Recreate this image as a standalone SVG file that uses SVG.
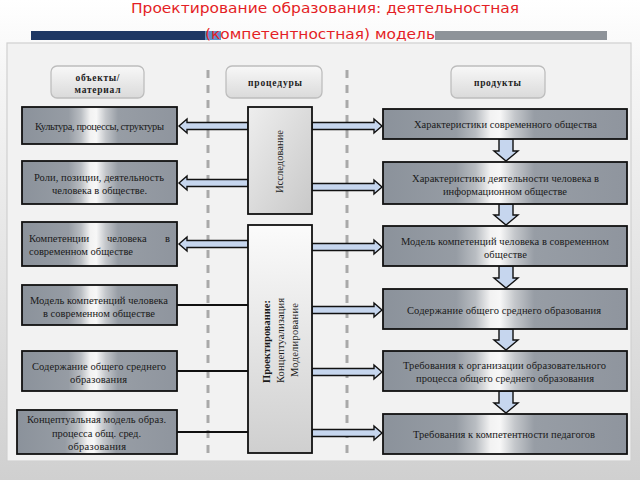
<svg xmlns="http://www.w3.org/2000/svg" width="640" height="480" viewBox="0 0 640 480">
<defs>
<linearGradient id="bg" x1="0" y1="0" x2="0" y2="1">
<stop offset="0" stop-color="#ffffff"/><stop offset="0.15" stop-color="#f6f6f6"/><stop offset="1" stop-color="#d0d0d0"/>
</linearGradient>
<linearGradient id="metal" x1="0" y1="0" x2="1" y2="0">
<stop offset="0" stop-color="#8b929b"/><stop offset="0.30" stop-color="#969ca4"/><stop offset="0.38" stop-color="#b9bdc2"/><stop offset="0.44" stop-color="#f2f2f2"/><stop offset="0.48" stop-color="#f7f7f7"/><stop offset="0.54" stop-color="#c4c7cb"/><stop offset="0.62" stop-color="#979da5"/><stop offset="1" stop-color="#8f959e"/>
</linearGradient>
<linearGradient id="btn" x1="0" y1="0" x2="0" y2="1">
<stop offset="0" stop-color="#f8f8f8"/><stop offset="1" stop-color="#dadada"/>
</linearGradient>
<linearGradient id="mid1" x1="0" y1="0" x2="1" y2="1">
<stop offset="0" stop-color="#eeeeee"/><stop offset="1" stop-color="#c8c8c8"/>
</linearGradient>
<linearGradient id="mid2" x1="0" y1="0" x2="0" y2="1">
<stop offset="0" stop-color="#fbfbfb"/><stop offset="1" stop-color="#cfcfcf"/>
</linearGradient>
</defs>
<style>
.title{font-family:"DejaVu Sans",sans-serif;font-size:13.5px;fill:#e41e26;text-anchor:middle}
.lb{fill:url(#metal);stroke:#111;stroke-width:1.8}
.hb{fill:url(#btn);stroke:#bdbdbd;stroke-width:1.3}
.t{font-family:"Liberation Serif","Times New Roman",serif;font-size:10.5px;fill:#1a1a1a;text-anchor:middle}
.tl{font-family:"Liberation Serif","Times New Roman",serif;font-size:10.5px;fill:#1a1a1a}
.ht{font-family:"Liberation Serif","Times New Roman",serif;font-size:9.5px;font-weight:bold;fill:#222;text-anchor:middle}
.b{font-weight:bold}
.arr{fill:#c6d6ee;stroke:#111;stroke-width:1.4;stroke-linejoin:miter}
.ln{stroke:#111;stroke-width:2;fill:none}
.dash{stroke:#a9a9a9;stroke-width:3;stroke-dasharray:8 7;fill:none}
</style>
<rect x="0" y="0" width="640" height="480" fill="url(#bg)"/>
<g id="title">
<rect x="31" y="31" width="176" height="9" fill="#1f3864"/>
<rect x="205" y="31" width="16" height="9" fill="#5d8fc9"/>
<rect x="435" y="31" width="172" height="9" fill="#8e9399"/>
<text class="title" x="325" y="13" textLength="388" lengthAdjust="spacingAndGlyphs">Проектирование образования: деятельностная</text>
<text class="title" x="320" y="39" textLength="230" lengthAdjust="spacingAndGlyphs">(компетентностная) модель</text>
</g>
<rect x="7" y="43" width="624" height="418" fill="#f2f2f2" stroke="#d0d0d0" stroke-width="1.2"/>
<g id="separators">
<line class="dash" x1="208" y1="70" x2="208" y2="455"/>
<line class="dash" x1="347" y1="70" x2="347" y2="455"/>
</g>
<g id="headers">
<g id="h-objects"><rect class="hb" x="51" y="66" width="93" height="32" rx="6"/><text class="ht" x="97.5" y="81" textLength="44">объекты/</text><text class="ht" x="97.5" y="93" textLength="46">материал</text></g>
<g id="h-procedures"><rect class="hb" x="226" y="66" width="96" height="32" rx="6"/><text class="ht" x="275" y="86" textLength="54">процедуры</text></g>
<g id="h-products"><rect class="hb" x="451" y="66" width="94" height="32" rx="6"/><text class="ht" x="497.5" y="86" textLength="47">продукты</text></g>
</g>
<g id="connectors">
<polygon class="arr" points="248,122.5 187,122.5 187,119 179,126 187,133 187,129.5 248,129.5"/>
<polygon class="arr" points="248,179.5 187,179.5 187,176 179,183 187,190 187,186.5 248,186.5"/>
<polygon class="arr" points="248,240.5 187,240.5 187,237 179,244 187,251 187,247.5 248,247.5"/>
<line class="ln" x1="177" y1="305" x2="248" y2="305"/>
<line class="ln" x1="177" y1="371" x2="248" y2="371"/>
<line class="ln" x1="177" y1="432" x2="248" y2="432"/>
<polygon class="arr" points="312,122.5 374,122.5 374,119 382,126 374,133 374,129.5 312,129.5"/>
<polygon class="arr" points="312,183.5 374,183.5 374,180 382,187 374,194 374,190.5 312,190.5"/>
<polygon class="arr" points="312,243.5 374,243.5 374,240 382,247 374,254 374,250.5 312,250.5"/>
<polygon class="arr" points="312,306.5 374,306.5 374,303 382,310 374,317 374,313.5 312,313.5"/>
<polygon class="arr" points="312,368.5 374,368.5 374,365 382,372 374,379 374,375.5 312,375.5"/>
<polygon class="arr" points="312,429.5 374,429.5 374,426 382,433 374,440 374,436.5 312,436.5"/>
<polygon class="arr" points="499,139 513,139 513,151 518,151 506,161 494,151 499,151"/>
<polygon class="arr" points="499,204 513,204 513,215 518,215 506,225 494,215 499,215"/>
<polygon class="arr" points="499,266 513,266 513,278 518,278 506,288 494,278 499,278"/>
<polygon class="arr" points="499,329 513,329 513,340 518,340 506,350 494,340 499,340"/>
<polygon class="arr" points="499,391 513,391 513,403 518,403 506,413 494,403 499,403"/>
</g>
<g id="left-column">
<g id="l1"><rect class="lb" x="22" y="107" width="155" height="37"/><text class="t" x="99.5" y="130" textLength="129">Культура, процессы, структуры</text></g>
<g id="l2"><rect class="lb" x="22" y="161" width="155" height="43"/><text class="t" x="99" y="181" textLength="130">Роли, позиции, деятельность</text><text class="t" x="99.5" y="194" textLength="95">человека в обществе.</text></g>
<g id="l3"><rect class="lb" x="22" y="222" width="155" height="44"/><text class="tl" y="242"><tspan x="29">Компетенции</tspan><tspan x="107">человека</tspan><tspan x="165">в</tspan></text><text class="tl" x="29" y="255" textLength="104">современном обществе</text></g>
<g id="l4"><rect class="lb" x="22" y="285" width="155" height="40"/><text class="t" x="99" y="304" textLength="138">Модель компетенций человека</text><text class="t" x="99" y="317" textLength="112">в современном обществе</text></g>
<g id="l5"><rect class="lb" x="22" y="351" width="155" height="40"/><text class="t" x="99" y="370" textLength="134">Содержание общего среднего</text><text class="t" x="98.5" y="383" textLength="57">образования</text></g>
<g id="l6"><rect class="lb" x="17" y="410" width="160" height="44"/><text class="t" x="96.5" y="423" textLength="139">Концептуальная модель образ.</text><text class="t" x="96.5" y="437" textLength="89">процесса общ. сред.</text><text class="t" x="97" y="450" textLength="58">образования</text></g>
</g>
<g id="middle-column">
<g id="m1"><rect x="248" y="107" width="64" height="107" fill="url(#mid1)" stroke="#111" stroke-width="1.8"/><text class="t" transform="translate(283,161.5) rotate(-90)" textLength="63">Исследование</text></g>
<g id="m2"><rect x="248" y="225" width="64" height="228" fill="url(#mid2)" stroke="#111" stroke-width="1.8"/>
<text class="t b" transform="translate(270,341.5) rotate(-90)" textLength="83">Проектирование:</text>
<text class="t" transform="translate(283.5,340.5) rotate(-90)" textLength="85">Концептуализация</text>
<text class="t" transform="translate(298,340) rotate(-90)" textLength="74">Моделирование</text></g>
</g>
<g id="right-column">
<g id="r1"><rect class="lb" x="383" y="109" width="244" height="30"/><text class="t" x="505.5" y="128" textLength="183">Характеристики современного общества</text></g>
<g id="r2"><rect class="lb" x="383" y="162" width="244" height="42"/><text class="t" x="505.5" y="182" textLength="187">Характеристики деятельности человека в</text><text class="t" x="505" y="195" textLength="124">информационном обществе</text></g>
<g id="r3"><rect class="lb" x="383" y="226" width="244" height="40"/><text class="t" x="505" y="245" textLength="208">Модель компетенций человека в современном</text><text class="t" x="505.5" y="258" textLength="43">обществе</text></g>
<g id="r4"><rect class="lb" x="383" y="289" width="244" height="40"/><text class="t" x="504" y="314" textLength="194">Содержание общего среднего образования</text></g>
<g id="r5"><rect class="lb" x="383" y="351" width="244" height="40"/><text class="t" x="504.5" y="369" textLength="203">Требования к организации образовательного</text><text class="t" x="505" y="382" textLength="178">процесса общего среднего образования</text></g>
<g id="r6"><rect class="lb" x="383" y="414" width="244" height="40"/><text class="t" x="504" y="438" textLength="182">Требования к компетентности педагогов</text></g>
</g>
</svg>
